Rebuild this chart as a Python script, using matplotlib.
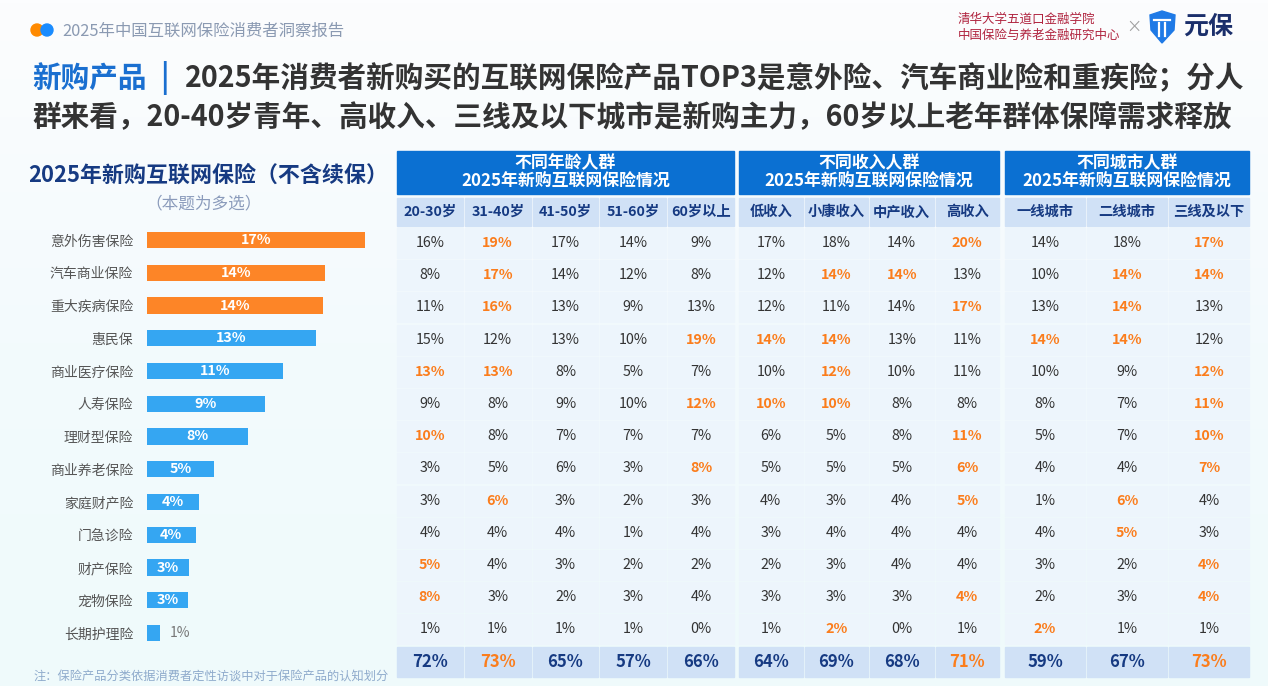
import numpy as np
import matplotlib
matplotlib.use("Agg")
import matplotlib.pyplot as plt
from matplotlib.patches import Rectangle, Circle, Polygon

plt.rcParams['font.family'] = ['Noto Sans CJK SC', 'DejaVu Sans']

# ---- data ----
products = ['意外伤害保险', '汽车商业保险', '重大疾病保险', '惠民保', '商业医疗保险', '人寿保险',
            '理财型保险', '商业养老保险', '家庭财产险', '门急诊险', '财产保险', '宠物保险', '长期护理险']
overall = [17.0, 13.9, 13.75, 13.2, 10.6, 9.2, 7.9, 5.2, 4.1, 3.8, 3.3, 3.2, 1.0]

age_labels = ['20-30岁', '31-40岁', '41-50岁', '51-60岁', '60岁以上']
age_values = [[16, 19, 17, 14, 9], [8, 17, 14, 12, 8], [11, 16, 13, 9, 13], [15, 12, 13, 10, 19],
              [13, 13, 8, 5, 7], [9, 8, 9, 10, 12], [10, 8, 7, 7, 7], [3, 5, 6, 3, 8],
              [3, 6, 3, 2, 3], [4, 4, 4, 1, 4], [5, 4, 3, 2, 2], [8, 3, 2, 3, 4], [1, 1, 1, 1, 0]]
age_hi = [[1], [1], [1], [4], [0, 1], [4], [0], [4], [1], [], [0], [0], []]
age_total = [72, 73, 65, 57, 66]
age_total_hi = [1]

income_labels = ['低收入', '小康收入', '中产收入', '高收入']
income_values = [[17, 18, 14, 20], [12, 14, 14, 13], [12, 11, 14, 17], [14, 14, 13, 11],
                 [10, 12, 10, 11], [10, 10, 8, 8], [6, 5, 8, 11], [5, 5, 5, 6],
                 [4, 3, 4, 5], [3, 4, 4, 4], [2, 3, 4, 4], [3, 3, 3, 4], [1, 2, 0, 1]]
income_hi = [[3], [1, 2], [3], [0, 1], [1], [0, 1], [3], [3], [3], [], [], [3], [1]]
income_total = [64, 69, 68, 71]
income_total_hi = [3]

city_labels = ['一线城市', '二线城市', '三线及以下']
city_values = [[14, 18, 17], [10, 14, 14], [13, 14, 13], [14, 14, 12], [10, 9, 12], [8, 7, 11],
               [5, 7, 10], [4, 4, 7], [1, 6, 4], [4, 5, 3], [3, 2, 4], [2, 3, 4], [2, 1, 1]]
city_hi = [[2], [1, 2], [1], [0, 1], [2], [2], [2], [2], [1], [1], [2], [2], [0]]
city_total = [59, 67, 73]
city_total_hi = [2]

# ---- colours ----
ORANGE = '#fd8527'
HI_ORANGE = '#fb7d1c'
BLUE_BAR = '#35a6f2'
HEAD_BLUE = '#0b70d2'
SUB_BLUE = '#d0e1f6'
CELL = '#edf5fc'
NAVY = '#163a82'
DARK = '#333333'

W, H = 1268, 686
fig = plt.figure(figsize=(W / 100, H / 100), dpi=100)

# background axes in pixel coordinates
bg = fig.add_axes([0, 0, 1, 1])
bg.set_xlim(0, W)
bg.set_ylim(H, 0)
bg.axis('off')
grad = np.linspace(0, 1, 200).reshape(-1, 1)
cmap = matplotlib.colors.LinearSegmentedColormap.from_list('bgc', ['#fcfdfe', '#f3fafd', '#effafb'])
bg.imshow(grad, extent=[0, W, H, 0], aspect='auto', cmap=cmap, zorder=0)

# header
bg.add_patch(Circle((37, 30), 6, color='#ff8a00', zorder=2))
bg.add_patch(Circle((47, 30), 6, color='#1a8cff', zorder=2))
bg.text(62, 31, '2025年中国互联网保险消费者洞察报告', fontsize=11.8, color='#8b9ab2', va='center')
bg.text(958, 19, '清华大学五道口金融学院', fontsize=9, color='#b0243f', va='center')
bg.text(958, 35, '中国保险与养老金融研究中心', fontsize=9, color='#b0243f', va='center')
bg.text(1134, 27, '×', fontsize=11, color='#a0a0a0', va='center', ha='center')
shield = Polygon([(1150, 15), (1162, 11), (1175, 15), (1174, 30), (1162, 43), (1151, 30)],
                 closed=True, color='#1f7ae6', zorder=2)
bg.add_patch(shield)
bg.plot([1154, 1170], [20, 20], color='white', lw=1.6, zorder=3)
bg.plot([1159, 1159], [23, 36], color='white', lw=1.6, zorder=3)
bg.plot([1165, 1165], [23, 36], color='white', lw=1.6, zorder=3)
bg.text(1183, 27, '元保', fontsize=18, fontweight='bold', color='#1b2f6b', va='center')

# title
bg.text(32, 78, '新购产品', fontsize=20.6, fontweight='bold', color='#1a6fd0', va='center')
bg.text(160, 78, '|', fontsize=20.6, fontweight='bold', color='#1a6fd0', va='center')
bg.text(185, 78, '2025年消费者新购买的互联网保险产品TOP3是意外险、汽车商业险和重疾险；分人',
        fontsize=20.6, fontweight='bold', color=DARK, va='center')
bg.text(32, 116, '群来看，20-40岁青年、高收入、三线及以下城市是新购主力，60岁以上老年群体保障需求释放',
        fontsize=20.6, fontweight='bold', color=DARK, va='center')

# left chart titles
bg.text(208, 175, '2025年新购互联网保险（不含续保）', fontsize=15.8, fontweight='bold',
        color=NAVY, va='center', ha='center')
bg.text(204, 204, '（本题为多选）', fontsize=12, color='#8a9bbb', va='center', ha='center')
bg.text(33, 676, '注：保险产品分类依据消费者定性访谈中对于保险产品的认知划分', fontsize=8.8,
        color='#8fabcc', va='center')

# ---- bar chart ----
pitch = 32.75
top = 240 - pitch / 2
left_px, scale = 147, 12.8
ax = fig.add_axes([left_px / W, 1 - (top + pitch * len(products)) / H,
                   scale * 20 / W, pitch * len(products) / H])
ax.set_xlim(0, 20)
ax.set_ylim(len(products) - 0.5, -0.5)
colors = [ORANGE if i < 3 else BLUE_BAR for i in range(len(products))]
ypos = np.arange(len(products))
ax.barh(ypos, overall, height=0.5, color=colors)
for y, v in zip(ypos, overall):
    if v >= 2:
        ax.text(v / 2, y, f'{v:.0f}%', ha='center', va='center', color='white',
                fontsize=10.3, fontweight='bold')
    else:
        ax.text(v + 0.8, y, f'{v:.0f}%', ha='left', va='center', color='#777777', fontsize=10)
ax.set_yticks(ypos)
ax.set_yticklabels(products, fontsize=10, color='#555555')
ax.tick_params(axis='y', length=0, pad=10)
ax.set_xticks([])
for s in ax.spines.values():
    s.set_visible(False)
ax.patch.set_alpha(0)

# ---- table ----
groups = [
    ('不同年龄人群\n2025年新购互联网保险情况', (397, 734), age_labels, age_values, age_hi, age_total, age_total_hi),
    ('不同收入人群\n2025年新购互联网保险情况', (739, 999), income_labels, income_values, income_hi, income_total, income_total_hi),
    ('不同城市人群\n2025年新购互联网保险情况', (1005, 1249), city_labels, city_values, city_hi, city_total, city_total_hi),
]
row_top, row_pitch, row_h = 228, 32.2, 30
gap = 2

for title, (x0, x1), labels, values, hi, total, total_hi in groups:
    bg.add_patch(Rectangle((x0, 151), x1 - x0, 43, color=HEAD_BLUE, zorder=2))
    bg.text((x0 + x1) / 2, 172.5, title, ha='center', va='center', color='white',
            fontsize=12.2, fontweight='bold', linespacing=1.05, zorder=3)
    n = len(labels)
    cw = (x1 - x0 + gap) / n
    for j, lab in enumerate(labels):
        cx = x0 + j * cw
        w = cw - gap
        bg.add_patch(Rectangle((cx, 198), w, 28, color=SUB_BLUE, zorder=2))
        bg.text(cx + w / 2, 212, lab, ha='center', va='center', color=NAVY,
                fontsize=10.3, fontweight='bold', zorder=3)
        for i, row in enumerate(values):
            y = row_top + i * row_pitch
            bg.add_patch(Rectangle((cx, y), w, row_h, color=CELL, zorder=2))
            is_hi = j in hi[i]
            bg.text(cx + w / 2, y + row_h / 2, f'{row[j]}%', ha='center', va='center',
                    color=HI_ORANGE if is_hi else DARK, fontsize=10.3,
                    fontweight='bold' if is_hi else 'normal', zorder=3)
        y = row_top + len(values) * row_pitch
        bg.add_patch(Rectangle((cx, y), w, row_h, color=SUB_BLUE, zorder=2))
        bg.text(cx + w / 2, y + row_h / 2, f'{total[j]}%', ha='center', va='center',
                color=HI_ORANGE if j in total_hi else NAVY, fontsize=12,
                fontweight='bold', zorder=3)

fig.savefig('out.png', dpi=100)
